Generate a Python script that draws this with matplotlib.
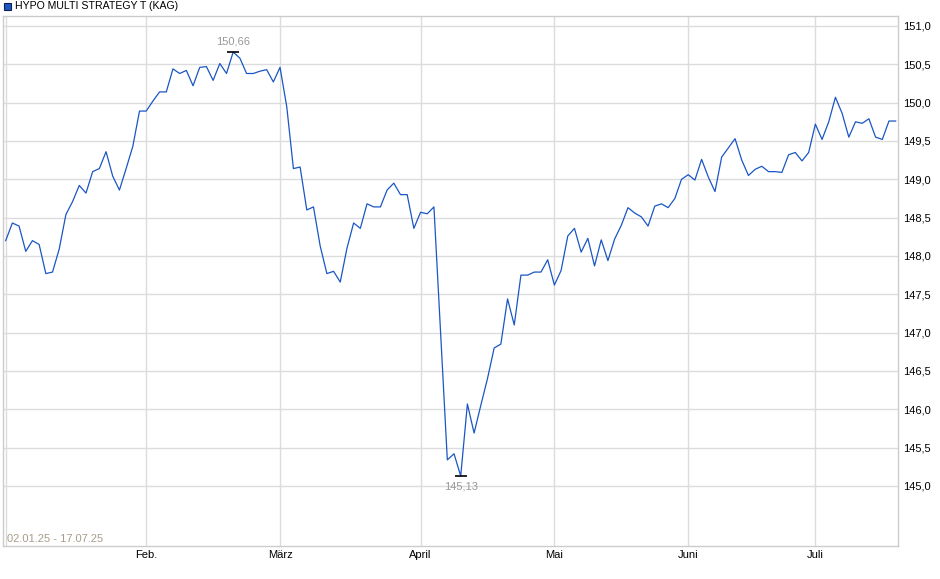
import numpy as np
import matplotlib
matplotlib.use("Agg")
import matplotlib.pyplot as plt
from matplotlib.patches import Rectangle

plt.rcParams['font.family'] = ['Liberation Sans', 'DejaVu Sans']

# Kurswerte (Handelstage 02.01.25 - 17.07.25)
jan = [148.20, 148.43, 148.39, 148.06, 148.20, 148.15, 147.77, 147.79, 148.09, 148.54,
       148.71, 148.92, 148.82, 149.10, 149.14, 149.36, 149.04, 148.86, 149.14, 149.43,
       149.89]
feb = [149.89, 150.02, 150.14, 150.14, 150.44, 150.38, 150.42, 150.22, 150.46, 150.47,
       150.29, 150.51, 150.38, 150.66, 150.58, 150.38, 150.38, 150.41, 150.43, 150.27]
mar = [150.46, 149.95, 149.14, 149.16, 148.60, 148.64, 148.13, 147.77, 147.80, 147.66,
       148.10, 148.43, 148.36, 148.68, 148.64, 148.64, 148.86, 148.95, 148.80, 148.80,
       148.36]
apr = [148.57, 148.55, 148.64, 147.00, 145.34, 145.42, 145.13, 146.07, 145.69, 146.05,
       146.40, 146.80, 146.85, 147.44, 147.10, 147.75, 147.75, 147.79, 147.79, 147.95]
mai = [147.62, 147.81, 148.26, 148.36, 148.05, 148.23, 147.87, 148.21, 147.94, 148.22,
       148.40, 148.63, 148.56, 148.51, 148.39, 148.65, 148.68, 148.63, 148.75, 149.00]
jun = [149.06, 148.99, 149.26, 149.03, 148.84, 149.29, 149.41, 149.53, 149.25, 149.05,
       149.13, 149.17, 149.10, 149.10, 149.09, 149.32, 149.35, 149.24, 149.35]
jul = [149.72, 149.52, 149.75, 150.07, 149.86, 149.55, 149.75, 149.73, 149.79, 149.55,
       149.52, 149.76, 149.76]

kurs = np.array(jan + feb + mar + apr + mai + jun + jul)
idx = np.arange(len(kurs))

monate = ['Feb.', 'März', 'April', 'Mai', 'Juni', 'Juli']
monat_len = [len(jan), len(feb), len(mar), len(apr), len(mai), len(jun)]
monat_start = np.cumsum(monat_len)

y_ticks = np.arange(145.0, 151.01, 0.5)

fig = plt.figure(figsize=(9.4, 5.79), dpi=100)
ax = fig.add_axes([3 / 940, 33 / 579, 895 / 940, 530 / 579])

ax.plot(idx, kurs, color='#1a56c4', lw=0.9)

ax.set_xlim(-0.4, len(kurs) - 1 + 0.35)
ax.set_ylim(144.217, 151.13)

# Gitter
for v in y_ticks:
    ax.axhline(v, color='#dcdcdc', lw=1, zorder=0)
for m in np.concatenate([[0], monat_start]):
    ax.axvline(m, color='#dcdcdc', lw=1, zorder=0)

ax.set_xticks(monat_start)
ax.set_xticklabels(monate)
ax.set_yticks(y_ticks)
ax.set_yticklabels([f'{v:.1f}'.replace('.', ',') for v in y_ticks])
ax.yaxis.tick_right()
ax.tick_params(axis='both', length=0, labelsize=8, colors='black')
ax.tick_params(axis='y', pad=4)
ax.tick_params(axis='x', pad=3)

for s in ax.spines.values():
    s.set_color('#cccccc')
    s.set_linewidth(1)

# Hoch / Tief
i_max = int(np.argmax(kurs))
i_min = int(np.argmin(kurs))
ax.plot(i_max, kurs[i_max], marker='_', color='black', ms=9, mew=1.2)
ax.plot(i_min, kurs[i_min], marker='_', color='black', ms=9, mew=1.2)
ax.annotate(f'{kurs[i_max]:.2f}'.replace('.', ','), (i_max, kurs[i_max]),
            xytext=(0, 4), textcoords='offset points', ha='center', va='bottom',
            color='#999999', fontsize=8)
ax.annotate(f'{kurs[i_min]:.2f}'.replace('.', ','), (i_min, kurs[i_min]),
            xytext=(0, -4), textcoords='offset points', ha='center', va='top',
            color='#999999', fontsize=8)

ax.text(0.004, 0.004, '02.01.25 - 17.07.25', transform=ax.transAxes,
        ha='left', va='bottom', color='#a89c8c', fontsize=8)

# Legende
fig.patches.append(Rectangle((4 / 940, 1 - 10 / 579), 7 / 940, 7 / 579,
                             transform=fig.transFigure, facecolor='#1a56c4',
                             edgecolor='#10204a', lw=0.8))
fig.text(15 / 940, 1 - 6 / 579, 'HYPO MULTI STRATEGY T (KAG)', ha='left', va='center',
         fontsize=7.6, color='black')

fig.savefig('out.png', dpi=100)
